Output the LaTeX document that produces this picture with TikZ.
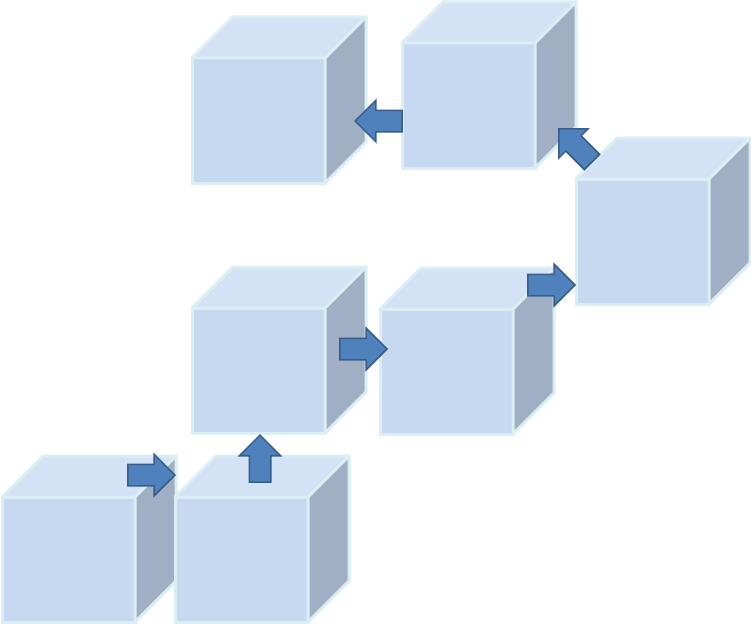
\documentclass[tikz,border=0pt]{standalone}
\usetikzlibrary{shapes.arrows}
\definecolor{frontc}{RGB}{198,217,240}
\definecolor{topc}{RGB}{211,226,244}
\definecolor{sidec}{RGB}{160,175,196}
\definecolor{edgec}{RGB}{218,238,243}
\definecolor{arrowfill}{RGB}{79,129,189}
\definecolor{arrowline}{RGB}{56,93,138}
\tikzset{
  facefront/.style={draw=edgec, fill=frontc, line width=3pt, minimum width=133pt, minimum height=125pt, inner sep=0pt, outer sep=0pt, anchor=north west},
  facetop/.style={draw=edgec, fill=topc, line width=3pt, line join=round},
  faceside/.style={draw=edgec, fill=sidec, line width=3pt, line join=round},
  blockarrow/.style={single arrow, draw=arrowline, fill=arrowfill, line width=1.5pt, inner xsep=0pt, inner ysep=10pt, minimum height=47pt, single arrow head extend=10pt, anchor=tip}
}
\newcommand\mycube[3]{%
  \node[facefront] (#1) at (#2,#3) {};
  \draw[facetop] (#1.north west) -- ++(41,-41) -- ++(133,0) -- (#1.north east) -- cycle;
  \draw[faceside] (#1.north east) -- ++(41,-41) -- ++(0,125) -- (#1.south east) -- cycle;
}
\begin{document}
\begin{tikzpicture}[x=1pt,y=-1pt]
\useasboundingbox (0,0) rectangle (751,623);
\mycube{c1}{2}{497}
\mycube{c2}{175}{497}
\mycube{c3}{192}{308}
\mycube{c4}{380}{309}
\mycube{c5}{576}{179}
\mycube{c6}{402}{43}
\mycube{c7}{192}{58}
\node[blockarrow] (a1) at (176,475) {};
\node[blockarrow, rotate=90] (a2) at (260,434) {};
\node[blockarrow] (a3) at (388,349) {};
\node[blockarrow] (a4) at (576,285) {};
\node[blockarrow, rotate=135] (a5) at (558,128) {};
\node[blockarrow, rotate=180] (a6) at (354,121) {};
\end{tikzpicture}
\end{document}
